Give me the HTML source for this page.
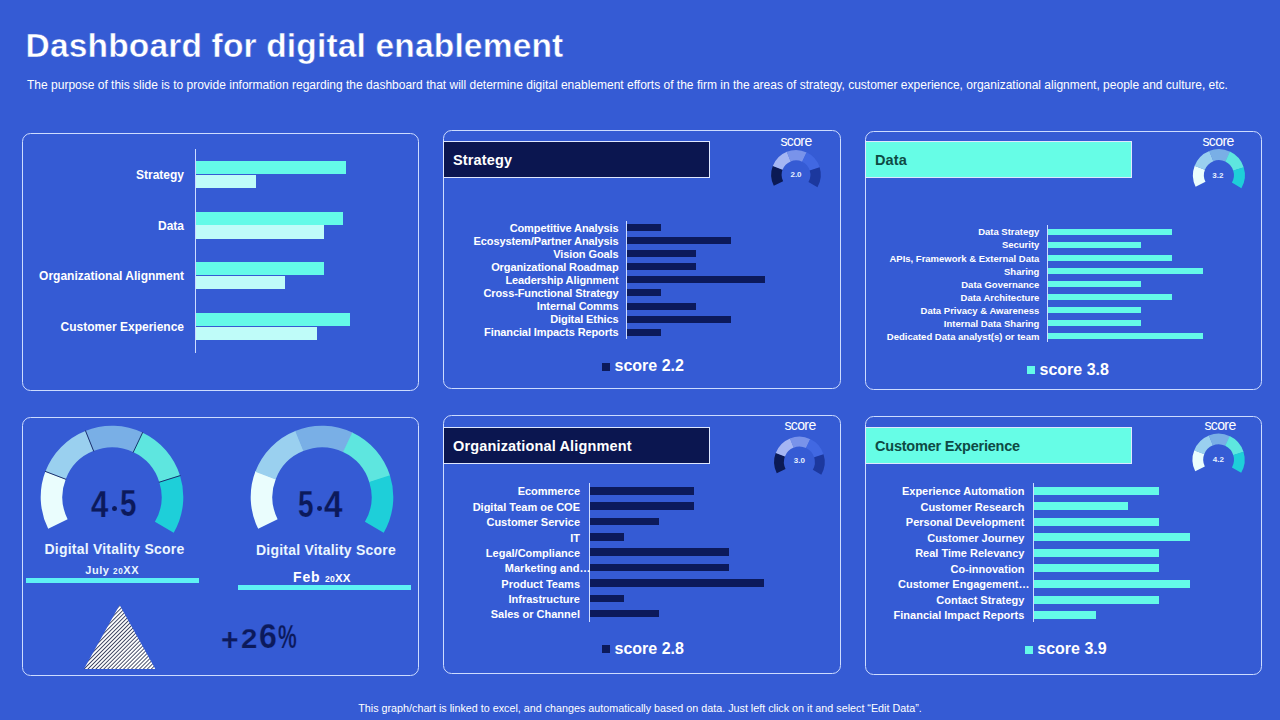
<!DOCTYPE html>
<html><head><meta charset="utf-8"><title>Dashboard for digital enablement</title>
<style>
*{margin:0;padding:0;box-sizing:border-box}
html,body{width:1280px;height:720px;overflow:hidden;background:#355bd4}
body{position:relative;font-family:"Liberation Sans", Arial, sans-serif}
.t{position:absolute;white-space:nowrap;line-height:1}
.r{position:absolute}
.p{position:absolute;border:1px solid #cddcff;border-radius:8.5px}
.h{position:absolute;border:1px solid #dfe8ff}
svg{position:absolute;left:0;top:0}
</style></head><body>
<svg width="1280" height="720" viewBox="0 0 1280 720"><path d="M773.81,185.87 A24.8,24.8 0 0 1 772.89,165.79 L782.58,169.57 A14.4,14.4 0 0 0 783.11,181.23 Z" fill="#0b1a55"/><path d="M772.80,166.03 A24.8,24.8 0 0 1 786.91,151.73 L790.72,161.40 A14.4,14.4 0 0 0 782.53,169.71 Z" fill="#a5b6f3"/><path d="M786.67,151.82 A24.8,24.8 0 0 1 806.75,152.45 L802.24,161.82 A14.4,14.4 0 0 0 790.58,161.46 Z" fill="#7993ea"/><path d="M806.52,152.34 A24.8,24.8 0 0 1 819.70,167.51 L809.76,170.57 A14.4,14.4 0 0 0 802.11,161.76 Z" fill="#4168e2"/><path d="M819.63,167.26 A24.8,24.8 0 0 1 817.46,187.24 L808.46,182.02 A14.4,14.4 0 0 0 809.72,170.42 Z" fill="#1c389e"/><path d="M1195.63,186.70 A26,26 0 0 1 1194.68,165.66 L1204.92,169.65 A15,15 0 0 0 1205.48,181.79 Z" fill="#eafdfd"/><path d="M1194.58,165.91 A26,26 0 0 1 1209.37,150.91 L1213.40,161.14 A15,15 0 0 0 1204.87,169.80 Z" fill="#9ad0ef"/><path d="M1209.12,151.01 A26,26 0 0 1 1230.18,151.67 L1225.40,161.58 A15,15 0 0 0 1213.26,161.20 Z" fill="#79afe6"/><path d="M1229.93,151.56 A26,26 0 0 1 1243.75,167.45 L1233.24,170.69 A15,15 0 0 0 1225.26,161.52 Z" fill="#5ee6df"/><path d="M1243.67,167.20 A26,26 0 0 1 1241.39,188.14 L1231.88,182.62 A15,15 0 0 0 1233.19,170.54 Z" fill="#1ecfd9"/><path d="M776.76,473.29 A25.3,25.3 0 0 1 775.83,452.81 L784.96,456.37 A15.5,15.5 0 0 0 785.53,468.92 Z" fill="#0b1a55"/><path d="M775.73,453.06 A25.3,25.3 0 0 1 790.13,438.46 L793.72,447.58 A15.5,15.5 0 0 0 784.90,456.52 Z" fill="#a5b6f3"/><path d="M789.88,438.56 A25.3,25.3 0 0 1 810.37,439.20 L806.12,448.03 A15.5,15.5 0 0 0 793.57,447.64 Z" fill="#7993ea"/><path d="M810.13,439.09 A25.3,25.3 0 0 1 823.58,454.56 L814.21,457.44 A15.5,15.5 0 0 0 805.98,447.96 Z" fill="#4168e2"/><path d="M823.50,454.31 A25.3,25.3 0 0 1 821.29,474.69 L812.81,469.77 A15.5,15.5 0 0 0 814.17,457.29 Z" fill="#1c389e"/><path d="M1195.24,471.35 A26.1,26.1 0 0 1 1194.28,450.22 L1204.25,454.11 A15.4,15.4 0 0 0 1204.82,466.57 Z" fill="#eafdfd"/><path d="M1194.18,450.47 A26.1,26.1 0 0 1 1209.03,435.42 L1212.96,445.37 A15.4,15.4 0 0 0 1204.19,454.26 Z" fill="#9ad0ef"/><path d="M1208.78,435.52 A26.1,26.1 0 0 1 1229.92,436.18 L1225.28,445.82 A15.4,15.4 0 0 0 1212.81,445.43 Z" fill="#79afe6"/><path d="M1229.67,436.06 A26.1,26.1 0 0 1 1243.55,452.03 L1233.32,455.17 A15.4,15.4 0 0 0 1225.13,445.75 Z" fill="#5ee6df"/><path d="M1243.46,451.76 A26.1,26.1 0 0 1 1241.18,472.79 L1231.92,467.42 A15.4,15.4 0 0 0 1233.27,455.02 Z" fill="#1ecfd9"/><path d="M48.19,528.81 A71.3,71.3 0 0 1 45.57,471.10 L65.79,478.98 A49.6,49.6 0 0 0 67.61,519.13 Z" fill="#eafdfd"/><path d="M45.30,471.80 A71.3,71.3 0 0 1 85.87,430.66 L93.82,450.85 A49.6,49.6 0 0 0 65.60,479.47 Z" fill="#9ad0ef"/><path d="M85.18,430.94 A71.3,71.3 0 0 1 142.92,432.75 L133.51,452.31 A49.6,49.6 0 0 0 93.34,451.04 Z" fill="#79afe6"/><path d="M142.25,432.43 A71.3,71.3 0 0 1 180.15,476.03 L159.41,482.42 A49.6,49.6 0 0 0 133.04,452.08 Z" fill="#5ee6df"/><path d="M179.92,475.32 A71.3,71.3 0 0 1 173.69,532.76 L154.91,521.87 A49.6,49.6 0 0 0 159.25,481.92 Z" fill="#1ecfd9"/><line x1="66.16" y1="479.40" x2="44.97" y2="471.27" stroke="#1a2f6e" stroke-width="1"/><line x1="93.77" y1="451.41" x2="85.34" y2="430.33" stroke="#1a2f6e" stroke-width="1"/><line x1="133.06" y1="452.65" x2="142.80" y2="432.14" stroke="#1a2f6e" stroke-width="1"/><line x1="158.85" y1="482.32" x2="180.51" y2="475.53" stroke="#1a2f6e" stroke-width="1"/><path d="M258.19,528.81 A71.3,71.3 0 0 1 255.57,471.10 L275.79,478.98 A49.6,49.6 0 0 0 277.61,519.13 Z" fill="#eafdfd"/><path d="M255.30,471.80 A71.3,71.3 0 0 1 295.87,430.66 L303.82,450.85 A49.6,49.6 0 0 0 275.60,479.47 Z" fill="#9ad0ef"/><path d="M295.18,430.94 A71.3,71.3 0 0 1 352.92,432.75 L343.51,452.31 A49.6,49.6 0 0 0 303.34,451.04 Z" fill="#79afe6"/><path d="M352.25,432.43 A71.3,71.3 0 0 1 390.15,476.03 L369.41,482.42 A49.6,49.6 0 0 0 343.04,452.08 Z" fill="#5ee6df"/><path d="M389.92,475.32 A71.3,71.3 0 0 1 383.69,532.76 L364.91,521.87 A49.6,49.6 0 0 0 369.25,481.92 Z" fill="#1ecfd9"/><defs><pattern id="hatch" patternUnits="userSpaceOnUse" width="2.8" height="2.8" patternTransform="rotate(45)"><rect width="2.8" height="2.8" fill="#ffffff"/><rect width="0.8" height="2.8" fill="#1e2648"/></pattern></defs><polygon points="119.6,605 84,669 155.3,669" fill="url(#hatch)"/></svg>
<div class="t" style="left:25.60px;top:28.94px;width:900px;text-align:left;font-size:33.5px;font-weight:700;color:#fff;letter-spacing:0.17px;-webkit-text-stroke:0.45px #355bd4;">Dashboard for digital enablement</div>
<div class="t" style="left:27.00px;top:78.54px;width:900px;text-align:left;font-size:12px;font-weight:400;color:#fff;letter-spacing:0.003px;">The purpose of this slide is to provide information regarding the dashboard that will determine digital enablement efforts of the firm in the areas of strategy, customer experience, organizational alignment, people and culture, etc.</div>
<div class="p" style="left:22px;top:133px;width:397px;height:258px;"></div>
<div class="p" style="left:443px;top:130px;width:398px;height:259px;"></div>
<div class="p" style="left:865px;top:131px;width:397px;height:259px;"></div>
<div class="p" style="left:22px;top:417px;width:397px;height:259px;"></div>
<div class="p" style="left:443px;top:415px;width:398px;height:259px;"></div>
<div class="p" style="left:865px;top:416px;width:397px;height:259px;"></div>
<div class="r" style="left:195.00px;top:148.60px;width:1.00px;height:204.10px;background:#cddcff;"></div>
<div class="r" style="left:196.00px;top:161.00px;width:150.00px;height:13.00px;background:#64fae8;"></div>
<div class="r" style="left:196.00px;top:174.70px;width:60.00px;height:13.30px;background:#bffcf9;"></div>
<div class="t" style="left:-716.00px;top:169.04px;width:900px;text-align:right;font-size:12px;font-weight:700;color:#fff;letter-spacing:0px;">Strategy</div>
<div class="r" style="left:196.00px;top:211.67px;width:147.30px;height:13.00px;background:#64fae8;"></div>
<div class="r" style="left:196.00px;top:225.37px;width:128.00px;height:13.30px;background:#bffcf9;"></div>
<div class="t" style="left:-716.00px;top:219.71px;width:900px;text-align:right;font-size:12px;font-weight:700;color:#fff;letter-spacing:0px;">Data</div>
<div class="r" style="left:196.00px;top:262.34px;width:128.00px;height:13.00px;background:#64fae8;"></div>
<div class="r" style="left:196.00px;top:276.04px;width:89.00px;height:13.30px;background:#bffcf9;"></div>
<div class="t" style="left:-716.00px;top:270.38px;width:900px;text-align:right;font-size:12px;font-weight:700;color:#fff;letter-spacing:0px;">Organizational Alignment</div>
<div class="r" style="left:196.00px;top:313.01px;width:154.00px;height:13.00px;background:#64fae8;"></div>
<div class="r" style="left:196.00px;top:326.71px;width:121.00px;height:13.30px;background:#bffcf9;"></div>
<div class="t" style="left:-716.00px;top:321.05px;width:900px;text-align:right;font-size:12px;font-weight:700;color:#fff;letter-spacing:0px;">Customer Experience</div>
<div class="h" style="left:443px;top:141px;width:267px;height:37px;background:#0b1650;"></div>
<div class="t" style="left:453.00px;top:152.73px;width:900px;text-align:left;font-size:14.5px;font-weight:700;color:#fff;letter-spacing:0.15px;">Strategy</div>
<div class="h" style="left:865px;top:141px;width:267px;height:37px;background:#66fde6;"></div>
<div class="t" style="left:875.00px;top:152.73px;width:900px;text-align:left;font-size:14.5px;font-weight:700;color:#0e4a44;letter-spacing:0.15px;">Data</div>
<div class="h" style="left:443px;top:427px;width:267px;height:37px;background:#0b1650;"></div>
<div class="t" style="left:453.00px;top:438.73px;width:900px;text-align:left;font-size:14.5px;font-weight:700;color:#fff;letter-spacing:0.15px;">Organizational Alignment</div>
<div class="h" style="left:865px;top:427px;width:267px;height:37px;background:#66fde6;"></div>
<div class="t" style="left:875.00px;top:438.73px;width:900px;text-align:left;font-size:14.5px;font-weight:700;color:#0e4a44;letter-spacing:-0.22px;">Customer Experience</div>
<div class="r" style="left:626.00px;top:221.30px;width:1.00px;height:118.20px;background:#cddcff;"></div>
<div class="r" style="left:627.00px;top:224.00px;width:34.00px;height:7.00px;background:#0c1a5b;"></div>
<div class="t" style="left:-281.50px;top:222.69px;width:900px;text-align:right;font-size:11px;font-weight:700;color:#fff;letter-spacing:-0.1px;">Competitive Analysis</div>
<div class="r" style="left:627.00px;top:237.09px;width:104.00px;height:7.00px;background:#0c1a5b;"></div>
<div class="t" style="left:-281.50px;top:235.78px;width:900px;text-align:right;font-size:11px;font-weight:700;color:#fff;letter-spacing:-0.1px;">Ecosystem/Partner Analysis</div>
<div class="r" style="left:627.00px;top:250.18px;width:69.00px;height:7.00px;background:#0c1a5b;"></div>
<div class="t" style="left:-281.50px;top:248.87px;width:900px;text-align:right;font-size:11px;font-weight:700;color:#fff;letter-spacing:-0.1px;">Vision Goals</div>
<div class="r" style="left:627.00px;top:263.27px;width:69.00px;height:7.00px;background:#0c1a5b;"></div>
<div class="t" style="left:-281.50px;top:261.96px;width:900px;text-align:right;font-size:11px;font-weight:700;color:#fff;letter-spacing:-0.1px;">Organizational Roadmap</div>
<div class="r" style="left:627.00px;top:276.36px;width:138.00px;height:7.00px;background:#0c1a5b;"></div>
<div class="t" style="left:-281.50px;top:275.05px;width:900px;text-align:right;font-size:11px;font-weight:700;color:#fff;letter-spacing:-0.1px;">Leadership Alignment</div>
<div class="r" style="left:627.00px;top:289.45px;width:34.00px;height:7.00px;background:#0c1a5b;"></div>
<div class="t" style="left:-281.50px;top:288.14px;width:900px;text-align:right;font-size:11px;font-weight:700;color:#fff;letter-spacing:-0.1px;">Cross-Functional Strategy</div>
<div class="r" style="left:627.00px;top:302.54px;width:69.00px;height:7.00px;background:#0c1a5b;"></div>
<div class="t" style="left:-281.50px;top:301.23px;width:900px;text-align:right;font-size:11px;font-weight:700;color:#fff;letter-spacing:-0.1px;">Internal Comms</div>
<div class="r" style="left:627.00px;top:315.63px;width:104.00px;height:7.00px;background:#0c1a5b;"></div>
<div class="t" style="left:-281.50px;top:314.32px;width:900px;text-align:right;font-size:11px;font-weight:700;color:#fff;letter-spacing:-0.1px;">Digital Ethics</div>
<div class="r" style="left:627.00px;top:328.72px;width:34.00px;height:7.00px;background:#0c1a5b;"></div>
<div class="t" style="left:-281.50px;top:327.41px;width:900px;text-align:right;font-size:11px;font-weight:700;color:#fff;letter-spacing:-0.1px;">Financial Impacts Reports</div>
<div class="r" style="left:1047.00px;top:225.20px;width:1.00px;height:117.20px;background:#cddcff;"></div>
<div class="r" style="left:1048.00px;top:229.00px;width:124.00px;height:6.00px;background:#64fae8;"></div>
<div class="t" style="left:139.40px;top:227.46px;width:900px;text-align:right;font-size:9.5px;font-weight:700;color:#fff;letter-spacing:0px;">Data Strategy</div>
<div class="r" style="left:1048.00px;top:242.03px;width:93.00px;height:6.00px;background:#64fae8;"></div>
<div class="t" style="left:139.40px;top:240.49px;width:900px;text-align:right;font-size:9.5px;font-weight:700;color:#fff;letter-spacing:0px;">Security</div>
<div class="r" style="left:1048.00px;top:255.06px;width:124.00px;height:6.00px;background:#64fae8;"></div>
<div class="t" style="left:139.40px;top:253.52px;width:900px;text-align:right;font-size:9.5px;font-weight:700;color:#fff;letter-spacing:0px;">APIs, Framework &amp; External Data</div>
<div class="r" style="left:1048.00px;top:268.09px;width:155.00px;height:6.00px;background:#64fae8;"></div>
<div class="t" style="left:139.40px;top:266.55px;width:900px;text-align:right;font-size:9.5px;font-weight:700;color:#fff;letter-spacing:0px;">Sharing</div>
<div class="r" style="left:1048.00px;top:281.12px;width:93.00px;height:6.00px;background:#64fae8;"></div>
<div class="t" style="left:139.40px;top:279.58px;width:900px;text-align:right;font-size:9.5px;font-weight:700;color:#fff;letter-spacing:0px;">Data Governance</div>
<div class="r" style="left:1048.00px;top:294.15px;width:124.00px;height:6.00px;background:#64fae8;"></div>
<div class="t" style="left:139.40px;top:292.61px;width:900px;text-align:right;font-size:9.5px;font-weight:700;color:#fff;letter-spacing:0px;">Data Architecture</div>
<div class="r" style="left:1048.00px;top:307.18px;width:93.00px;height:6.00px;background:#64fae8;"></div>
<div class="t" style="left:139.40px;top:305.64px;width:900px;text-align:right;font-size:9.5px;font-weight:700;color:#fff;letter-spacing:0px;">Data Privacy &amp; Awareness</div>
<div class="r" style="left:1048.00px;top:320.21px;width:93.00px;height:6.00px;background:#64fae8;"></div>
<div class="t" style="left:139.40px;top:318.67px;width:900px;text-align:right;font-size:9.5px;font-weight:700;color:#fff;letter-spacing:0px;">Internal Data Sharing</div>
<div class="r" style="left:1048.00px;top:333.24px;width:155.00px;height:6.00px;background:#64fae8;"></div>
<div class="t" style="left:139.40px;top:331.70px;width:900px;text-align:right;font-size:9.5px;font-weight:700;color:#fff;letter-spacing:0px;">Dedicated Data analyst(s) or team</div>
<div class="r" style="left:589.10px;top:483.20px;width:1.00px;height:138.60px;background:#cddcff;"></div>
<div class="r" style="left:590.10px;top:487.00px;width:103.90px;height:7.60px;background:#0c1a5b;"></div>
<div class="t" style="left:-320.00px;top:486.49px;width:900px;text-align:right;font-size:11px;font-weight:700;color:#fff;letter-spacing:0px;">Ecommerce</div>
<div class="r" style="left:590.10px;top:502.36px;width:103.90px;height:7.60px;background:#0c1a5b;"></div>
<div class="t" style="left:-320.00px;top:501.85px;width:900px;text-align:right;font-size:11px;font-weight:700;color:#fff;letter-spacing:0px;">Digital Team oe COE</div>
<div class="r" style="left:590.10px;top:517.72px;width:68.90px;height:7.60px;background:#0c1a5b;"></div>
<div class="t" style="left:-320.00px;top:517.21px;width:900px;text-align:right;font-size:11px;font-weight:700;color:#fff;letter-spacing:0px;">Customer Service</div>
<div class="r" style="left:590.10px;top:533.08px;width:33.90px;height:7.60px;background:#0c1a5b;"></div>
<div class="t" style="left:-320.00px;top:532.57px;width:900px;text-align:right;font-size:11px;font-weight:700;color:#fff;letter-spacing:0px;">IT</div>
<div class="r" style="left:590.10px;top:548.44px;width:138.90px;height:7.60px;background:#0c1a5b;"></div>
<div class="t" style="left:-320.00px;top:547.93px;width:900px;text-align:right;font-size:11px;font-weight:700;color:#fff;letter-spacing:0px;">Legal/Compliance</div>
<div class="r" style="left:590.10px;top:563.80px;width:138.90px;height:7.60px;background:#0c1a5b;"></div>
<div class="t" style="left:-309.60px;top:563.29px;width:900px;text-align:right;font-size:11px;font-weight:700;color:#fff;letter-spacing:0px;">Marketing and…</div>
<div class="r" style="left:590.10px;top:579.16px;width:173.90px;height:7.60px;background:#0c1a5b;"></div>
<div class="t" style="left:-320.00px;top:578.65px;width:900px;text-align:right;font-size:11px;font-weight:700;color:#fff;letter-spacing:0px;">Product Teams</div>
<div class="r" style="left:590.10px;top:594.52px;width:33.90px;height:7.60px;background:#0c1a5b;"></div>
<div class="t" style="left:-320.00px;top:594.01px;width:900px;text-align:right;font-size:11px;font-weight:700;color:#fff;letter-spacing:0px;">Infrastructure</div>
<div class="r" style="left:590.10px;top:609.88px;width:68.90px;height:7.60px;background:#0c1a5b;"></div>
<div class="t" style="left:-320.00px;top:609.37px;width:900px;text-align:right;font-size:11px;font-weight:700;color:#fff;letter-spacing:0px;">Sales or Channel</div>
<div class="r" style="left:1032.80px;top:483.20px;width:1.00px;height:139.00px;background:#cddcff;"></div>
<div class="r" style="left:1033.80px;top:486.80px;width:125.20px;height:8.00px;background:#64fae8;"></div>
<div class="t" style="left:124.40px;top:486.09px;width:900px;text-align:right;font-size:11px;font-weight:700;color:#fff;letter-spacing:0px;">Experience Automation</div>
<div class="r" style="left:1033.80px;top:502.33px;width:94.20px;height:8.00px;background:#64fae8;"></div>
<div class="t" style="left:124.40px;top:501.62px;width:900px;text-align:right;font-size:11px;font-weight:700;color:#fff;letter-spacing:0px;">Customer Research</div>
<div class="r" style="left:1033.80px;top:517.86px;width:125.20px;height:8.00px;background:#64fae8;"></div>
<div class="t" style="left:124.40px;top:517.15px;width:900px;text-align:right;font-size:11px;font-weight:700;color:#fff;letter-spacing:0px;">Personal Development</div>
<div class="r" style="left:1033.80px;top:533.39px;width:156.20px;height:8.00px;background:#64fae8;"></div>
<div class="t" style="left:124.40px;top:532.68px;width:900px;text-align:right;font-size:11px;font-weight:700;color:#fff;letter-spacing:0px;">Customer Journey</div>
<div class="r" style="left:1033.80px;top:548.92px;width:125.20px;height:8.00px;background:#64fae8;"></div>
<div class="t" style="left:124.40px;top:548.21px;width:900px;text-align:right;font-size:11px;font-weight:700;color:#fff;letter-spacing:0px;">Real Time Relevancy</div>
<div class="r" style="left:1033.80px;top:564.45px;width:125.20px;height:8.00px;background:#64fae8;"></div>
<div class="t" style="left:124.40px;top:563.74px;width:900px;text-align:right;font-size:11px;font-weight:700;color:#fff;letter-spacing:0px;">Co-innovation</div>
<div class="r" style="left:1033.80px;top:579.98px;width:156.20px;height:8.00px;background:#64fae8;"></div>
<div class="t" style="left:129.40px;top:579.27px;width:900px;text-align:right;font-size:11px;font-weight:700;color:#fff;letter-spacing:0px;">Customer Engagement…</div>
<div class="r" style="left:1033.80px;top:595.51px;width:125.20px;height:8.00px;background:#64fae8;"></div>
<div class="t" style="left:124.40px;top:594.80px;width:900px;text-align:right;font-size:11px;font-weight:700;color:#fff;letter-spacing:0px;">Contact Strategy</div>
<div class="r" style="left:1033.80px;top:611.04px;width:62.20px;height:8.00px;background:#64fae8;"></div>
<div class="t" style="left:124.40px;top:610.33px;width:900px;text-align:right;font-size:11px;font-weight:700;color:#fff;letter-spacing:0px;">Financial Impact Reports</div>
<div class="r" style="left:602.00px;top:363.00px;width:8.00px;height:8.00px;background:#0c1a5b;"></div>
<div class="t" style="left:614.50px;top:358.06px;width:900px;text-align:left;font-size:16px;font-weight:700;color:#fff;letter-spacing:0px;">score 2.2</div>
<div class="r" style="left:1027.00px;top:366.00px;width:8.00px;height:8.00px;background:#64fae8;"></div>
<div class="t" style="left:1039.50px;top:362.16px;width:900px;text-align:left;font-size:16px;font-weight:700;color:#fff;letter-spacing:0px;">score 3.8</div>
<div class="r" style="left:602.00px;top:645.00px;width:8.00px;height:8.00px;background:#0c1a5b;"></div>
<div class="t" style="left:614.50px;top:641.06px;width:900px;text-align:left;font-size:16px;font-weight:700;color:#fff;letter-spacing:0px;">score 2.8</div>
<div class="r" style="left:1025.00px;top:646.00px;width:8.00px;height:8.00px;background:#64fae8;"></div>
<div class="t" style="left:1037.30px;top:641.06px;width:900px;text-align:left;font-size:16px;font-weight:700;color:#fff;letter-spacing:0px;">score 3.9</div>
<div class="t" style="left:346.00px;top:133.95px;width:900px;text-align:center;font-size:14px;font-weight:400;color:#fff;letter-spacing:-0.6px;">score</div>
<div class="t" style="left:768.10px;top:133.95px;width:900px;text-align:center;font-size:14px;font-weight:400;color:#fff;letter-spacing:-0.6px;">score</div>
<div class="t" style="left:350.00px;top:417.55px;width:900px;text-align:center;font-size:14px;font-weight:400;color:#fff;letter-spacing:-0.6px;">score</div>
<div class="t" style="left:770.00px;top:417.55px;width:900px;text-align:center;font-size:14px;font-weight:400;color:#fff;letter-spacing:-0.6px;">score</div>
<div class="t" style="left:346.00px;top:171.03px;width:900px;text-align:center;font-size:8px;font-weight:700;color:#e8f0ff;letter-spacing:0px;">2.0</div>
<div class="t" style="left:767.90px;top:172.43px;width:900px;text-align:center;font-size:8px;font-weight:700;color:#e8f0ff;letter-spacing:0px;">3.2</div>
<div class="t" style="left:349.40px;top:457.23px;width:900px;text-align:center;font-size:8px;font-weight:700;color:#e8f0ff;letter-spacing:0px;">3.0</div>
<div class="t" style="left:768.30px;top:456.13px;width:900px;text-align:center;font-size:8px;font-weight:700;color:#e8f0ff;letter-spacing:0px;">4.2</div>
<div class="t" style="left:90.63px;top:486.05px;font-size:37.50px;font-weight:700;color:#0c1a5b;transform:scaleX(0.831);transform-origin:left top;-webkit-text-stroke:0.25px #355bd4">4</div>
<div class="r" style="left:112.00px;top:505.60px;width:5.20px;height:5.40px;background:#0c1a5b;border-radius:50%"></div>
<div class="t" style="left:119.69px;top:486.38px;font-size:36.69px;font-weight:700;color:#0c1a5b;transform:scaleX(0.805);transform-origin:left top;-webkit-text-stroke:0.25px #355bd4">5</div>
<div class="t" style="left:298.04px;top:486.13px;font-size:36.98px;font-weight:700;color:#0c1a5b;transform:scaleX(0.756);transform-origin:left top;-webkit-text-stroke:0.25px #355bd4">5</div>
<div class="r" style="left:317.00px;top:505.80px;width:5.30px;height:5.20px;background:#0c1a5b;border-radius:50%"></div>
<div class="t" style="left:324.30px;top:486.05px;font-size:37.50px;font-weight:700;color:#0c1a5b;transform:scaleX(0.886);transform-origin:left top;-webkit-text-stroke:0.25px #355bd4">4</div>
<div class="t" style="left:-335.50px;top:541.95px;width:900px;text-align:center;font-size:14px;font-weight:700;color:#eaf6ff;letter-spacing:0.22px;">Digital Vitality Score</div>
<div class="t" style="left:-124.00px;top:543.15px;width:900px;text-align:center;font-size:14px;font-weight:700;color:#eaf6ff;letter-spacing:0.22px;">Digital Vitality Score</div>
<div class="t" style="left:-337.80px;top:564.89px;width:900px;text-align:center;font-size:11px;font-weight:700;color:#eaf6ff;letter-spacing:0.55px;">July <span style="font-size:8.2px">20</span>XX</div>
<div class="t" style="left:-128.25px;top:570.45px;width:900px;text-align:center;font-size:14px;font-weight:700;color:#fff;letter-spacing:0.75px;">Feb <span style="font-size:8.6px;letter-spacing:0.3px">20</span><span style="font-size:11.5px;letter-spacing:0">XX</span></div>
<div class="r" style="left:26.00px;top:578.40px;width:173.20px;height:4.70px;background:#5ef2f4;"></div>
<div class="r" style="left:237.80px;top:585.00px;width:173.40px;height:4.80px;background:#5ef2f4;"></div>
<div class="t" style="left:221.14px;top:623.80px;font-size:31.11px;font-weight:700;color:#0c1a5b;transform:scaleX(0.968);transform-origin:left top;-webkit-text-stroke:0.25px #355bd4">+</div>
<div class="t" style="left:240.58px;top:625.32px;font-size:27.50px;font-weight:700;color:#0c1a5b;transform:scaleX(1.073);transform-origin:left top;-webkit-text-stroke:0.25px #355bd4">2</div>
<div class="t" style="left:258.83px;top:618.96px;font-size:34.60px;font-weight:700;color:#0c1a5b;transform:scaleX(0.927);transform-origin:left top;-webkit-text-stroke:0.25px #355bd4">6</div>
<div class="t" style="left:277.78px;top:619.70px;font-size:33.83px;font-weight:700;color:#0c1a5b;transform:scaleX(0.621);transform-origin:left top;-webkit-text-stroke:0.25px #355bd4">%</div>
<div class="t" style="left:190.00px;top:703.10px;width:900px;text-align:center;font-size:10.75px;font-weight:400;color:#fff;letter-spacing:0px;">This graph/chart is linked to excel, and changes automatically based on data. Just left click on it and select “Edit Data”.</div>
</body></html>
